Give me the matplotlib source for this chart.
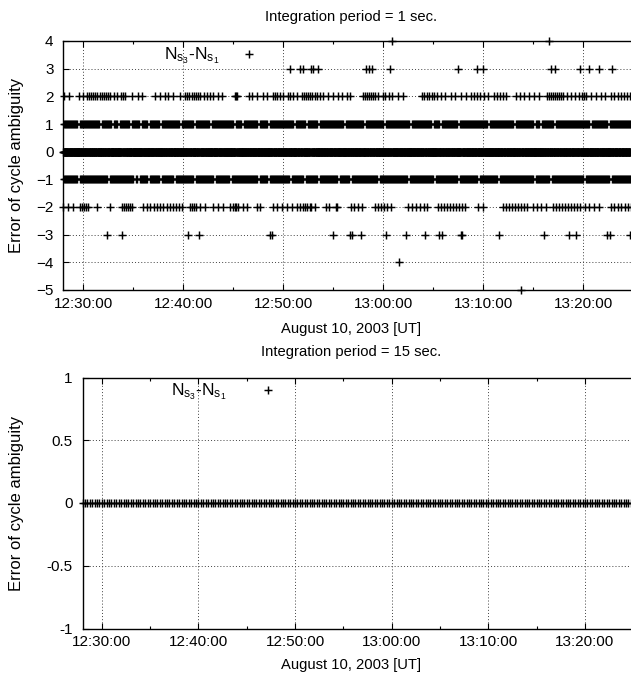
import numpy as np
import pandas as pd
import matplotlib
matplotlib.use("Agg")
import matplotlib.pyplot as plt
import matplotlib.dates as mdates
from matplotlib.ticker import MultipleLocator

plt.rcParams['font.family'] = ['Liberation Sans', 'DejaVu Sans']
plt.rcParams['mathtext.fontset'] = 'custom'
plt.rcParams['mathtext.rm'] = 'Liberation Sans'
plt.rcParams['mathtext.it'] = 'Liberation Sans'

# ---------------- data ----------------
start_time = "2003-08-10 12:28:00"
end_time = "2003-08-10 13:24:46"
ref_time = "2003-08-10 12:30:00"   # event times below are minutes after this
legend_label = r"$\mathrm{N_{s_3}}$-$\mathrm{N_{s_1}}$"
titles = ["Integration period = 1 sec.", "Integration period = 15 sec."]
xlabel = "August 10, 2003 [UT]"
ylabel = "Error of cycle ambiguity"

# sparse error levels: minutes after 12:30:00
ev_p4 = [30.9, 46.6]
ev_p3 = [20.7, 21.7, 22.0, 22.8, 23.0, 23.5, 28.3, 28.6, 28.9, 30.7, 37.5, 39.4, 40.0,
         46.8, 47.2, 49.7, 50.6, 51.6, 52.9]
ev_p2 = [-1.9, -1.4, -0.4, 0.0, 0.4, 0.6, 0.8, 1.0, 1.2, 1.4, 1.7, 1.9, 2.1, 2.3, 2.5, 2.7,
         3.1, 3.4, 3.8, 4.0, 4.2, 4.9, 5.5, 5.9, 7.2, 7.7, 8.2, 8.5, 9.0, 9.7, 10.2, 10.4,
         10.6, 10.9, 11.1, 11.3, 11.5, 11.7, 12.1, 12.4, 12.7, 13.0, 13.5, 13.9, 15.2,
         15.3, 15.4, 16.6, 16.9, 17.4, 18.0, 18.4, 19.0, 19.2, 19.4, 19.7, 20.0, 20.5,
         20.7, 21.0, 21.4, 21.9, 22.1, 22.3, 22.5, 22.7, 22.9, 23.2, 23.4, 23.7, 24.0,
         24.5, 25.0, 25.5, 25.9, 26.4, 26.7, 28.0, 28.2, 28.4, 28.6, 28.8, 29.0, 29.2,
         29.5, 30.0, 30.2, 30.6, 30.9, 31.5, 32.0, 33.9, 34.1, 34.4, 34.6, 34.9, 35.1,
         35.4, 35.8, 36.2, 36.8, 37.2, 37.8, 38.3, 38.8, 39.1, 39.4, 39.7, 40.1, 40.5,
         41.1, 41.4, 41.7, 42.0, 42.3, 43.3, 43.7, 44.1, 44.6, 45.1, 45.6, 46.4, 46.6,
         46.8, 47.0, 47.2, 47.4, 47.6, 47.8, 48.0, 48.4, 48.8, 49.2, 49.6, 49.9, 50.1,
         50.3, 50.8, 51.3, 51.8, 52.2, 52.8, 53.1, 53.5, 53.8, 54.1, 54.4, 54.7]
ev_m2 = [-2.0, -1.5, -1.0, -0.3, -0.1, 0.1, 0.3, 0.5, 1.4, 2.7, 3.9, 4.1, 4.3, 4.5, 4.7,
         4.9, 6.0, 6.4, 6.7, 7.1, 7.4, 7.7, 8.0, 8.4, 8.7, 9.0, 9.3, 9.6, 9.9, 10.7, 10.9,
         11.1, 11.3, 11.7, 12.2, 13.0, 13.5, 14.0, 14.7, 15.0, 15.2, 15.3, 15.5, 16.0,
         16.4, 17.4, 17.7, 19.0, 19.4, 19.9, 20.4, 20.9, 21.4, 21.7, 22.0, 22.2, 22.4,
         22.7, 22.8, 23.2, 24.3, 24.6, 25.3, 25.4, 26.7, 27.1, 27.5, 27.9, 29.2, 29.5,
         29.8, 30.1, 30.4, 30.8, 32.5, 32.9, 33.3, 33.7, 34.1, 34.4, 35.5, 35.8, 36.1,
         36.4, 36.7, 37.0, 37.3, 37.6, 37.9, 38.2, 39.5, 40.0, 42.0, 42.3, 42.6, 42.9,
         43.2, 43.5, 43.8, 44.1, 44.4, 45.0, 45.4, 45.8, 46.3, 47.0, 47.3, 47.6, 47.9,
         48.2, 48.5, 48.8, 49.1, 49.4, 49.7, 50.2, 50.6, 51.1, 51.6, 52.8, 53.1, 53.5,
         53.8, 54.2, 54.5, 54.7]
ev_m3 = [2.4, 3.9, 10.5, 11.6, 18.7, 18.9, 25.0, 26.7, 26.9, 27.8, 30.3, 32.3, 34.2, 35.6,
         35.9, 37.8, 37.9, 41.6, 46.1, 48.6, 49.3, 52.4, 52.7, 54.7]
ev_m4 = [31.6]
ev_m5 = [43.8]

# dense error levels +1 / -1: per 12-s bin from 12:28:00, '1' = the error occurs
# twice in that bin (at +2 s and +8 s), '0' = it does not occur
bin_s = 12
bin_hits_s = [2, 8]
mask_p1 = ("1111111011" "1111111101" "1111011011" "1110111101" "1101111101"
           "1111111101" "1111101111" "1110111111" "1111101110" "1111111011"
           "1101111111" "1111101111" "1011111011" "1111111111" "0111111111"
           "0111111111" "0111111111" "1110111111" "1111011101" "1111111011"
           "1111111111" "1101111111" "1111101111" "1111101101" "1111101111"
           "1111111111" "1110111111" "1101111111" "1111")
mask_m1 = ("1111111011" "1111111111" "1101111111" "1111101011" "1101111101"
           "1111101111" "1111101111" "1111101111" "1110111111" "1111111011"
           "1101111111" "1110111111" "0111111011" "1111111011" "1110111111"
           "1111111011" "1111111111" "1101111111" "1111101111" "1111111011"
           "1111111011" "1111111011" "1111111111" "1111101111" "1110111111"
           "1111111111" "0111111111" "1110111111" "1111")

sparse_levels = [4, 3, -3, -4, -5, 2, -2]
sparse_events = [ev_p4, ev_p3, ev_m3, ev_m4, ev_m5, ev_p2, ev_m2]
dense_levels = [1, -1]
dense_masks = [mask_p1, mask_m1]

# 1-s epochs (error 0 unless listed above); 15-s epochs all have error 0
epochs_1s = pd.date_range(start_time, end_time, freq="1s")
errors_1s = np.zeros(len(epochs_1s))
offset_s = (pd.Timestamp(ref_time) - pd.Timestamp(start_time)).total_seconds()

def assign(idx, lev):
    idx = min(idx, len(errors_1s) - 1)
    while idx < len(errors_1s) - 1 and errors_1s[idx] != 0:
        idx += 1
    errors_1s[idx] = lev

for lev, evs in zip(sparse_levels, sparse_events):
    for m in evs:
        assign(int(round(offset_s + m * 60)), lev)
for k, (lev, mask) in enumerate(zip(dense_levels, dense_masks)):
    for b, c in enumerate(mask):
        if c == "1":
            for h in bin_hits_s:
                assign(b * bin_s + h + k, lev)

epochs_15s = pd.date_range(start_time, end_time, freq="15s")
errors_15s = np.zeros(len(epochs_15s))

# ---------------- figure ----------------
W, H = 631, 680
fig = plt.figure(figsize=(W / 100, H / 100), dpi=100)
FS = 11
FS_LAB = 10.6
FS_YLAB = 12

def px_axes(left, top, right, bottom):
    return fig.add_axes([left / W, 1 - bottom / H, (right - left) / W, (bottom - top) / H])

def style(ax, ylim, ymaj):
    ax.set_xlim(pd.Timestamp(start_time), pd.Timestamp(end_time))
    ax.set_ylim(*ylim)
    ax.xaxis.set_major_locator(mdates.MinuteLocator(byminute=range(0, 60, 10)))
    ax.xaxis.set_minor_locator(mdates.MinuteLocator(byminute=range(5, 60, 10)))
    ax.xaxis.set_major_formatter(mdates.DateFormatter("%H:%M:%S"))
    ax.yaxis.set_major_locator(MultipleLocator(ymaj))
    ax.spines['right'].set_visible(False)
    for s in ['left', 'top', 'bottom']:
        ax.spines[s].set_linewidth(1.0)
    ax.tick_params(axis='x', which='both', direction='in', top=True, bottom=True,
                   labelsize=FS, pad=5, width=0.8)
    ax.tick_params(axis='x', which='major', length=4)
    ax.tick_params(axis='x', which='minor', length=2.2)
    ax.tick_params(axis='y', which='major', direction='in', right=False, length=4,
                   width=0.8, labelsize=FS, pad=7)
    ax.grid(True, which='major', color='0.25', linestyle=(0, (1, 2.2)), linewidth=0.7)
    ax.set_axisbelow(True)

def put_labels(ax, left, right, xlab_y, ylab_x, top, bottom, title_y, title):
    ax.set_xlabel(xlabel, fontsize=FS_LAB)
    ax.xaxis.set_label_coords((351 - left) / (right - left), (bottom - xlab_y) / (bottom - top))
    ax.xaxis.label.set_verticalalignment('center')
    ax.set_ylabel(ylabel, fontsize=FS_YLAB)
    ax.yaxis.set_label_coords((ylab_x - left) / (right - left), 0.5)
    ax.yaxis.label.set_verticalalignment('center')
    fig.text(351 / W, 1 - title_y / H, title, fontsize=FS_LAB, ha='center', va='center')

MS, MEW = 5.8, 1.05

# top panel
ax1 = px_axes(63.3, 41, 631, 290)
style(ax1, (-5, 4), 1)
ax1.plot(epochs_1s, errors_1s, linestyle='none', marker='+', markersize=MS,
         markeredgewidth=MEW, color='black', clip_on=False, label=legend_label)
put_labels(ax1, 63.3, 631, 329, 17, 41, 290, 17, titles[0])
ax1.legend(loc='center left', bbox_to_anchor=(164 / W, 1 - 56 / H),
           bbox_transform=fig.transFigure, frameon=False, markerfirst=False,
           numpoints=1, handlelength=1.6, handletextpad=0.9, borderpad=0,
           borderaxespad=0, prop={'size': 12.5})

# bottom panel
ax2 = px_axes(82.5, 377.5, 631, 628.5)
style(ax2, (-1, 1), 0.5)
ax2.yaxis.set_major_formatter(plt.FuncFormatter(lambda v, p: f"{v:g}"))
ax2.plot(epochs_15s, errors_15s, linestyle='none', marker='+', markersize=MS,
         markeredgewidth=MEW, color='black', clip_on=False, label=legend_label)
put_labels(ax2, 82.5, 631, 665, 17, 377.5, 628.5, 352, titles[1])
ax2.legend(loc='center left', bbox_to_anchor=(171 / W, 1 - 392 / H),
           bbox_transform=fig.transFigure, frameon=False, markerfirst=False,
           numpoints=1, handlelength=1.6, handletextpad=1.6, borderpad=0,
           borderaxespad=0, prop={'size': 12.5})

fig.savefig("out.png", dpi=100)
